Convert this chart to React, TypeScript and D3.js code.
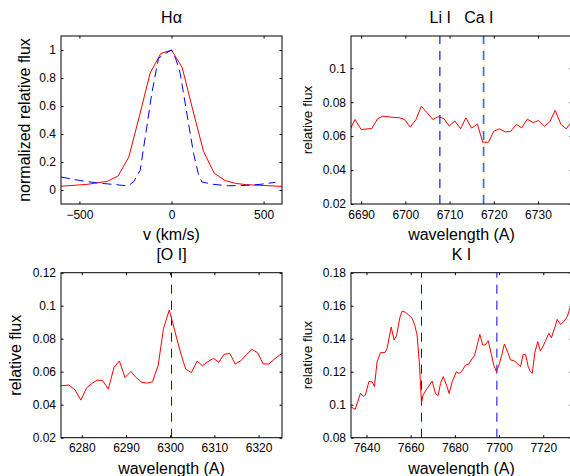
import React, { useEffect, useRef } from 'react'
import { select, scaleLinear, line, axisBottom, axisLeft, axisTop, axisRight, format } from 'd3'

// H-alpha profile, velocity in km/s
const haRedVel = [-600, -460, -348, -290, -232, -174, -116, -58, 0, 58, 116, 174, 232, 290, 348, 406, 600]
const haRedFlux = [0.027, 0.040, 0.062, 0.100, 0.235, 0.530, 0.835, 0.975, 1.0, 0.875, 0.570, 0.275, 0.120, 0.068, 0.047, 0.038, 0.026]
const haBlueVel = [-600, -500, -400, -300, -236, -205, -170, -140, -107, -71, -40, 0, 25, 47, 83, 120, 145, 165, 230, 310, 400, 480, 564]
const haBlueFlux = [0.093, 0.068, 0.050, 0.038, 0.029, 0.060, 0.140, 0.400, 0.690, 0.940, 0.970, 1.0, 0.930, 0.834, 0.550, 0.260, 0.120, 0.057, 0.040, 0.030, 0.033, 0.040, 0.055]

// Li I / Ca I region
const liWave = [6687.5, 6688.6, 6690.0, 6692.4, 6693.7, 6694.9, 6697.3, 6698.7, 6699.8, 6701.1, 6702.4, 6703.6, 6704.9, 6706.2, 6707.4, 6708.7, 6709.9, 6711.2, 6712.5, 6713.7, 6715.0, 6716.3, 6717.5, 6718.8, 6720.0, 6721.3, 6722.6, 6723.8, 6725.1, 6726.3, 6727.6, 6728.9, 6730.1, 6731.4, 6732.7, 6733.9, 6735.2, 6736.4, 6737.7]
const liFlux = [0.0639, 0.0698, 0.0639, 0.0645, 0.0702, 0.0718, 0.0710, 0.0708, 0.0698, 0.0653, 0.0698, 0.0776, 0.0738, 0.0698, 0.0714, 0.0704, 0.0659, 0.0689, 0.0643, 0.0708, 0.0647, 0.0671, 0.0564, 0.0564, 0.0629, 0.0643, 0.0625, 0.0627, 0.0669, 0.0649, 0.0700, 0.0679, 0.0692, 0.0657, 0.0685, 0.0752, 0.0669, 0.0643, 0.0689]
const liLines = [6707.8, 6717.7]

// [O I] region
const oWave = [6275.3, 6277.1, 6278.5, 6279.8, 6281.1, 6282.3, 6283.5, 6284.7, 6286.0, 6287.3, 6288.5, 6289.8, 6291.1, 6292.3, 6293.6, 6294.8, 6296.0, 6297.3, 6298.5, 6299.8, 6301.1, 6302.3, 6303.5, 6304.8, 6306.1, 6307.3, 6308.5, 6309.8, 6311.0, 6312.2, 6313.5, 6314.7, 6316.0, 6317.3, 6318.5, 6319.8, 6321.0, 6322.3, 6323.5, 6325.3]
const oFlux = [0.0515, 0.0519, 0.0489, 0.0428, 0.0503, 0.0529, 0.0549, 0.0547, 0.0495, 0.0626, 0.0665, 0.0564, 0.0602, 0.0564, 0.0535, 0.0531, 0.0539, 0.0640, 0.0863, 0.0974, 0.0842, 0.0720, 0.0616, 0.0594, 0.0665, 0.0636, 0.0660, 0.0681, 0.0657, 0.0705, 0.0711, 0.0646, 0.0667, 0.0705, 0.0735, 0.0715, 0.0648, 0.0646, 0.0675, 0.0711]
const oLines = [6300.3]

// K I region
const kWave = [7632.8, 7634.9, 7637.3, 7638.5, 7639.5, 7641.1, 7642.6, 7643.6, 7644.8, 7646.3, 7648.4, 7649.3, 7651.2, 7652.5, 7653.6, 7655.1, 7656.1, 7657.6, 7659.2, 7660.7, 7661.9, 7662.9, 7664.0, 7664.9, 7665.6, 7667.5, 7669.7, 7671.2, 7672.4, 7673.5, 7674.7, 7676.2, 7677.4, 7678.8, 7680.7, 7681.8, 7683.0, 7684.8, 7686.3, 7687.4, 7688.9, 7690.1, 7691.3, 7692.6, 7693.8, 7695.1, 7696.4, 7697.6, 7698.8, 7700.2, 7701.4, 7702.4, 7704.0, 7705.2, 7706.7, 7708.2, 7709.7, 7710.9, 7712.0, 7713.2, 7714.2, 7715.0, 7716.2, 7717.5, 7718.7, 7720.2, 7722.5, 7723.7, 7725.1, 7726.3, 7727.8, 7729.3, 7730.8, 7732.3]
const kFlux = [0.0988, 0.0972, 0.1070, 0.1050, 0.1059, 0.1140, 0.1138, 0.1110, 0.1260, 0.1315, 0.1317, 0.1340, 0.1471, 0.1392, 0.1418, 0.1527, 0.1568, 0.1560, 0.1543, 0.1523, 0.1479, 0.1422, 0.1240, 0.1008, 0.1059, 0.1099, 0.1143, 0.1069, 0.1055, 0.1129, 0.1170, 0.1119, 0.1069, 0.1139, 0.1200, 0.1190, 0.1200, 0.1240, 0.1246, 0.1271, 0.1297, 0.1362, 0.1426, 0.1362, 0.1362, 0.1388, 0.1311, 0.1240, 0.1200, 0.1251, 0.1311, 0.1368, 0.1315, 0.1271, 0.1267, 0.1251, 0.1230, 0.1305, 0.1305, 0.1230, 0.1200, 0.1190, 0.1317, 0.1382, 0.1325, 0.1362, 0.1432, 0.1406, 0.1463, 0.1517, 0.1487, 0.1503, 0.1533, 0.1594]
const kLines = [7664.9, 7699.0]

const haTicksX = [-500, 0, 500]
const haTicksY = [0, 0.2, 0.4, 0.6, 0.8, 1]
const liTicksX = [6690, 6700, 6710, 6720, 6730]
const liTicksY = [0.02, 0.04, 0.06, 0.08, 0.1]
const oTicksX = [6280, 6290, 6300, 6310, 6320]
const oTicksY = [0.02, 0.04, 0.06, 0.08, 0.1, 0.12]
const kTicksX = [7640, 7660, 7680, 7700, 7720]
const kTicksY = [0.08, 0.1, 0.12, 0.14, 0.16, 0.18]

const FONT = '"Liberation Sans", Arial, Helvetica, sans-serif'

const zip = (xs, ys) => xs.map((x, i) => [x, ys[i]])

const panels = [
    {
        id: 'ha', left: 61, right: 282, top: 36, bottom: 204,
        xDomain: [-600, 600], yDomain: [-0.1, 1.1],
        xTicks: haTicksX, yTicks: haTicksY,
        title: 'H\u03b1', xlabel: 'v (km/s)', ylabel: 'normalized relative flux', ylabelSize: 16, ylabelX: 30,
        series: [
            { pts: zip(haRedVel, haRedFlux), color: '#ff0000', dash: null },
            { pts: zip(haBlueVel, haBlueFlux), color: '#0000ff', dash: '9,5' },
        ],
        marks: [], markColor: '#0000ff', markWidth: 1,
    },
    {
        id: 'li', left: 351, right: 572, top: 36, bottom: 204,
        xDomain: [6687.7, 6737.7], yDomain: [0.02, 0.119],
        xTicks: liTicksX, yTicks: liTicksY,
        title: 'Li I   Ca I', xlabel: 'wavelength (A)', ylabel: 'relative flux', ylabelSize: 13.5, ylabelX: 312,
        series: [{ pts: zip(liWave, liFlux), color: '#ff0000', dash: null }],
        marks: liLines, markColor: '#3a5cff', markWidth: 1.6,
    },
    {
        id: 'oi', left: 61, right: 282, top: 272.7, bottom: 437.7,
        xDomain: [6275.3, 6325.3], yDomain: [0.02, 0.12],
        xTicks: oTicksX, yTicks: oTicksY,
        title: '[O I]', xlabel: 'wavelength (A)', ylabel: 'relative flux', ylabelSize: 16, ylabelX: 21,
        series: [{ pts: zip(oWave, oFlux), color: '#ff0000', dash: null }],
        marks: oLines, markColor: '#0000ff', markWidth: 1,
    },
    {
        id: 'ki', left: 351, right: 572, top: 272.7, bottom: 437.7,
        xDomain: [7633, 7733], yDomain: [0.08, 0.18],
        xTicks: kTicksX, yTicks: kTicksY,
        title: 'K I', xlabel: 'wavelength (A)', ylabel: 'relative flux', ylabelSize: 13.5, ylabelX: 312,
        series: [{ pts: zip(kWave, kFlux), color: '#ff0000', dash: null }],
        marks: kLines, markColor: '#0000ff', markWidth: 1,
    },
]

const fmt = format('~g')

const drawPanel = (svg, p) => {
    const x = scaleLinear().domain(p.xDomain).range([p.left, p.right])
    const y = scaleLinear().domain(p.yDomain).range([p.bottom, p.top])
    const w = p.right - p.left
    const h = p.bottom - p.top
    const g = svg.append('g')

    g.append('clipPath').attr('id', 'clip-' + p.id)
        .append('rect').attr('x', p.left).attr('y', p.top).attr('width', w).attr('height', h)

    g.append('rect')
        .attr('x', p.left).attr('y', p.top).attr('width', w).attr('height', h)
        .attr('fill', '#fff')

    const plot = g.append('g').attr('clip-path', `url(#clip-${p.id})`)

    // dashed line markers
    plot.selectAll('.mark')
        .data(p.marks)
        .enter().append('line')
        .attr('x1', d => x(d)).attr('x2', d => x(d))
        .attr('y1', p.bottom).attr('y2', p.top)
        .attr('stroke', p.markColor)
        .attr('stroke-width', p.markWidth)
        .attr('stroke-dasharray', '9,7')

    const lineGen = line().x(d => x(d[0])).y(d => y(d[1]))
    p.series.forEach(s => {
        plot.append('path')
            .attr('d', lineGen(s.pts))
            .attr('fill', 'none')
            .attr('stroke', s.color)
            .attr('stroke-width', 1)
            .attr('stroke-dasharray', s.dash)
    })

    // axes with inner ticks on all sides
    const ax = (sel) => {
        sel.select('.domain').remove()
        sel.selectAll('.tick line').attr('stroke', '#000')
        sel.selectAll('.tick text').attr('fill', '#000').style('font-size', '12px').style('font-family', FONT)
    }
    g.append('g').attr('transform', `translate(0,${p.bottom})`)
        .call(axisBottom(x).tickValues(p.xTicks).tickFormat(fmt).tickSizeInner(-2.5).tickSizeOuter(0).tickPadding(6))
        .call(ax)
    g.append('g').attr('transform', `translate(0,${p.top})`)
        .call(axisTop(x).tickValues(p.xTicks).tickFormat(() => '').tickSizeInner(-2.5).tickSizeOuter(0))
        .call(ax)
    g.append('g').attr('transform', `translate(${p.left},0)`)
        .call(axisLeft(y).tickValues(p.yTicks).tickFormat(fmt).tickSizeInner(-2.5).tickSizeOuter(0).tickPadding(5))
        .call(ax)
    g.append('g').attr('transform', `translate(${p.right},0)`)
        .call(axisRight(y).tickValues(p.yTicks).tickFormat(() => '').tickSizeInner(-2.5).tickSizeOuter(0))
        .call(ax)

    g.append('rect')
        .attr('x', p.left).attr('y', p.top).attr('width', w).attr('height', h)
        .attr('fill', 'none').attr('stroke', '#000').attr('stroke-width', 1)

    const cx = (p.left + p.right) / 2
    const cy = (p.top + p.bottom) / 2

    g.append('text')
        .attr('x', cx).attr('y', p.top - 13)
        .attr('text-anchor', 'middle')
        .style('font-size', '16px').style('white-space', 'pre')
        .text(p.title)

    g.append('text')
        .attr('x', cx).attr('y', p.bottom + 36)
        .attr('text-anchor', 'middle')
        .style('font-size', '16px')
        .text(p.xlabel)

    g.append('text')
        .attr('transform', `translate(${p.ylabelX},${cy}) rotate(-90)`)
        .attr('text-anchor', 'middle')
        .style('font-size', p.ylabelSize + 'px')
        .text(p.ylabel)
}

const App = () => {
    const svgRef = useRef(null)

    useEffect(() => {
        const svg = select(svgRef.current)
        svg.selectAll('*').remove()
        panels.forEach(p => drawPanel(svg, p))
    }, [])

    return (
        <svg ref={svgRef} width={570} height={476}
            style={{ position: 'absolute', left: 0, top: 0, background: '#fff', fontFamily: FONT, fill: '#000' }} />
    )
}

export default App
